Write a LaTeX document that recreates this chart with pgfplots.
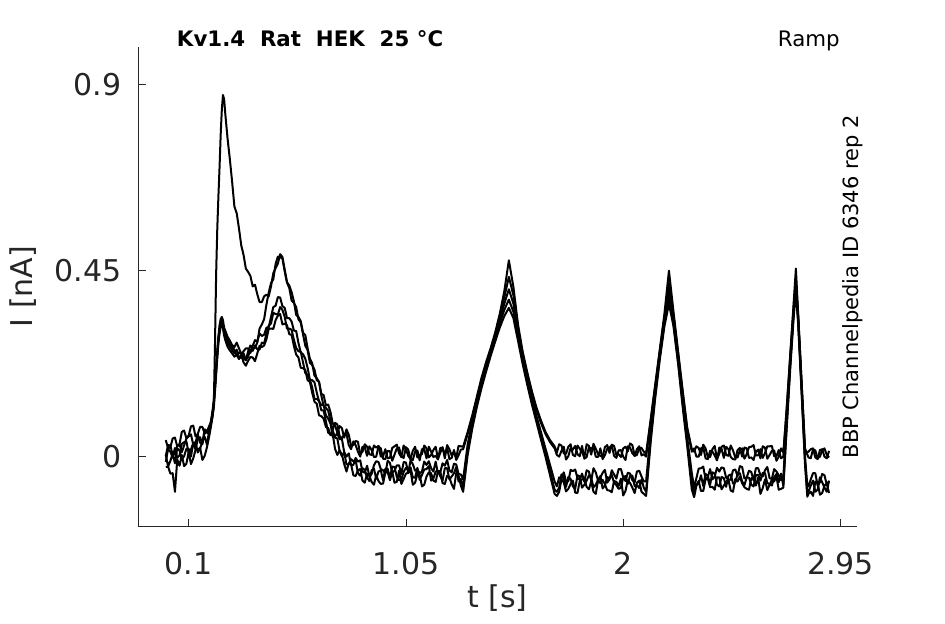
\documentclass[border=0pt]{standalone}
\usepackage{fontspec}
\setmainfont{DejaVu Sans}
\usepackage{pgfplots}
\pgfplotsset{compat=1.18}
\usepackage{pgfplotstable}
\definecolor{axgray}{HTML}{262626}

\pgfplotstableread{
t A B C D E
0.00 0.040 0.002 0.004 -0.013 -0.025
0.01 0.020 0.028 -0.024 0.019 -0.024
0.02 0.023 0.027 -0.010 0.012 -0.041
0.03 0.044 0.004 0.007 -0.002 -0.040
0.04 0.046 0.006 -0.016 0.021 -0.085
0.05 0.025 0.027 0.020 -0.003 -0.007
0.06 0.030 0.030 0.015 0.003 -0.022
0.07 0.060 0.011 -0.006 0.031 0.004
0.08 0.063 0.027 0.001 0.035 -0.023
0.09 0.045 0.044 0.019 0.037 -0.017
0.10 0.051 0.049 0.019 0.008 0.011
0.11 0.073 0.054 0.000 0.017 -0.018
0.12 0.075 0.029 0.032 0.033 -0.004
0.13 0.049 0.034 0.035 0.017 0.016
0.14 0.055 0.054 0.010 0.044 0.016
0.15 0.072 0.033 0.020 0.047 0.022
0.16 0.072 0.034 0.037 0.030 -0.008
0.17 0.056 0.066 0.048 0.060 0.002
0.18 0.061 0.062 0.029 0.058 0.023
0.19 0.075 0.058 0.065 0.055 0.050
0.20 0.085 0.092 0.095 0.087 0.082
0.205 0.100 0.108 0.114 0.106 0.100
0.21 0.130 0.133 0.136 0.127 0.120
0.215 0.270 0.168 0.176 0.166 0.158
0.22 0.440 0.212 0.215 0.207 0.198
0.225 0.550 0.248 0.256 0.247 0.238
0.23 0.630 0.287 0.290 0.282 0.274
0.235 0.700 0.308 0.318 0.305 0.298
0.24 0.780 0.327 0.333 0.322 0.315
0.245 0.840 0.332 0.338 0.326 0.320
0.25 0.875 0.318 0.330 0.316 0.310
0.255 0.865 0.307 0.312 0.300 0.293
0.26 0.830 0.293 0.305 0.290 0.282
0.27 0.770 0.284 0.290 0.274 0.266
0.28 0.720 0.272 0.281 0.266 0.257
0.29 0.665 0.266 0.270 0.258 0.250
0.30 0.605 0.258 0.265 0.250 0.242
0.31 0.589 0.245 0.276 0.259 0.246
0.32 0.552 0.252 0.262 0.241 0.236
0.33 0.511 0.250 0.248 0.239 0.246
0.34 0.488 0.238 0.255 0.250 0.228
0.35 0.455 0.233 0.262 0.234 0.220
0.36 0.447 0.255 0.262 0.242 0.232
0.37 0.437 0.269 0.251 0.259 0.241
0.38 0.412 0.262 0.268 0.256 0.240
0.39 0.416 0.263 0.282 0.269 0.231
0.40 0.393 0.276 0.278 0.260 0.250
0.41 0.374 0.310 0.298 0.259 0.268
0.42 0.374 0.320 0.292 0.276 0.265
0.43 0.388 0.333 0.295 0.274 0.269
0.44 0.392 0.368 0.312 0.298 0.284
0.45 0.388 0.397 0.313 0.317 0.309
0.46 0.412 0.420 0.338 0.322 0.310
0.47 0.444 0.429 0.362 0.348 0.309
0.48 0.456 0.466 0.365 0.345 0.330
0.49 0.467 0.484 0.386 0.344 0.341
0.50 0.490 0.483 0.385 0.362 0.345
0.51 0.483 0.479 0.364 0.355 0.320
0.52 0.452 0.448 0.360 0.338 0.322
0.53 0.422 0.421 0.335 0.310 0.318
0.54 0.414 0.408 0.335 0.310 0.296
0.55 0.398 0.378 0.327 0.307 0.295
0.56 0.376 0.372 0.305 0.283 0.268
0.57 0.343 0.362 0.304 0.263 0.247
0.58 0.338 0.332 0.275 0.255 0.240
0.59 0.328 0.325 0.252 0.254 0.215
0.60 0.300 0.296 0.248 0.228 0.214
0.61 0.294 0.268 0.237 0.202 0.210
0.62 0.262 0.258 0.215 0.198 0.185
0.63 0.237 0.227 0.186 0.186 0.181
0.64 0.226 0.222 0.185 0.168 0.155
0.65 0.196 0.211 0.180 0.140 0.133
0.66 0.190 0.185 0.155 0.140 0.128
0.67 0.181 0.181 0.134 0.135 0.100
0.68 0.152 0.148 0.125 0.112 0.098
0.69 0.149 0.123 0.125 0.112 0.092
0.70 0.124 0.118 0.100 0.086 0.072
0.71 0.126 0.111 0.092 0.058 0.069
0.72 0.108 0.086 0.080 0.054 0.052
0.73 0.080 0.065 0.048 0.063 0.054
0.74 0.076 0.082 0.049 0.046 0.019
0.75 0.058 0.078 0.057 0.044 0.004
0.76 0.074 0.050 0.042 0.013 0.015
0.77 0.069 0.044 0.043 0.001 0.005
0.78 0.046 0.055 0.011 0.011 -0.018
0.79 0.066 0.056 0.000 -0.019 -0.036
0.80 0.053 0.028 0.008 -0.018 -0.016
0.81 0.027 0.018 -0.021 -0.006 -0.018
0.82 0.028 0.037 -0.020 -0.011 -0.045
0.83 0.038 0.028 -0.003 -0.008 -0.047
0.84 0.036 0.012 -0.012 -0.040 -0.033
0.85 0.006 0.000 -0.009 -0.046 -0.030
0.86 0.012 0.024 -0.036 -0.028 -0.058
0.87 0.030 0.023 -0.039 -0.032 -0.063
0.88 0.024 0.002 -0.022 -0.050 -0.041
0.89 0.006 0.025 -0.047 -0.059 -0.047
0.90 0.004 0.016 -0.042 -0.033 -0.061
0.91 0.027 -0.001 -0.021 -0.029 -0.068
0.92 0.022 0.000 -0.011 -0.053 -0.045
0.93 0.026 0.025 -0.013 -0.036 -0.059
0.94 0.000 0.020 -0.030 -0.033 -0.066
0.95 0.001 -0.005 -0.033 -0.057 -0.065
0.96 0.018 -0.006 -0.041 -0.029 -0.038
0.97 -0.004 0.014 -0.010 -0.029 -0.037
0.98 -0.003 0.013 -0.015 -0.052 -0.057
0.99 0.021 -0.010 -0.039 -0.024 -0.036
1.00 0.025 0.005 -0.034 -0.025 -0.063
1.01 0.029 0.020 -0.021 -0.049 -0.061
1.02 0.008 0.022 -0.021 -0.057 -0.034
1.03 -0.001 0.000 -0.042 -0.055 -0.066
1.04 0.027 -0.003 -0.013 -0.037 -0.054
1.05 0.018 0.023 -0.014 -0.027 -0.041
1.06 0.002 0.017 -0.040 -0.031 -0.039
1.07 -0.006 -0.006 -0.009 -0.026 -0.033
1.08 0.014 -0.008 -0.018 -0.050 -0.068
1.09 0.024 0.012 -0.034 -0.051 -0.063
1.10 -0.002 0.015 -0.031 -0.027 -0.042
1.11 0.004 -0.009 -0.040 -0.056 -0.044
1.12 0.006 0.018 -0.036 -0.044 -0.072
1.13 0.027 0.019 -0.012 -0.031 -0.068
1.14 0.020 -0.004 -0.020 -0.030 -0.048
1.15 -0.002 0.024 -0.011 -0.023 -0.038
1.16 0.004 0.012 -0.028 -0.058 -0.040
1.17 0.016 -0.001 -0.036 -0.053 -0.058
1.18 0.024 0.002 -0.012 -0.036 -0.061
1.19 -0.005 -0.007 -0.041 -0.034 -0.035
1.20 0.009 0.021 -0.038 -0.047 -0.035
1.21 0.023 0.021 -0.016 -0.058 -0.064
1.22 -0.004 0.006 -0.022 -0.028 -0.066
1.23 0.028 0.022 -0.008 -0.028 -0.046
1.24 0.018 -0.006 -0.033 -0.055 -0.050
1.25 0.003 -0.003 -0.038 -0.048 -0.067
1.26 0.011 0.016 -0.017 -0.040 -0.078
1.27 -0.003 -0.008 -0.019 -0.025 -0.039
1.28 0.026 0.003 -0.042 -0.060 -0.046
1.29 0.025 0.017 -0.043 -0.054 -0.070
1.30 0.024 0.018 -0.055 -0.075 -0.085
1.32 0.060 0.055 0.030 0.015 0.005
1.34 0.100 0.095 0.085 0.075 0.068
1.36 0.145 0.140 0.135 0.127 0.120
1.38 0.190 0.185 0.180 0.172 0.165
1.40 0.228 0.222 0.218 0.212 0.205
1.42 0.262 0.258 0.255 0.250 0.243
1.44 0.300 0.295 0.290 0.285 0.278
1.46 0.345 0.340 0.330 0.322 0.312
1.48 0.400 0.385 0.370 0.355 0.340
1.50 0.475 0.435 0.405 0.380 0.360
1.52 0.410 0.390 0.370 0.350 0.335
1.54 0.320 0.310 0.300 0.290 0.280
1.56 0.255 0.250 0.240 0.232 0.225
1.58 0.205 0.200 0.190 0.182 0.175
1.60 0.160 0.155 0.145 0.136 0.128
1.62 0.120 0.115 0.100 0.092 0.085
1.64 0.088 0.082 0.060 0.050 0.042
1.66 0.060 0.055 0.020 0.008 0.000
1.68 0.040 0.035 -0.020 -0.035 -0.045
1.70 0.025 0.020 -0.060 -0.080 -0.090
1.71 0.010 0.004 -0.072 -0.085 -0.095
1.72 0.030 0.000 -0.050 -0.075 -0.085
1.73 0.027 0.014 -0.054 -0.043 -0.055
1.74 0.008 0.024 -0.038 -0.052 -0.062
1.75 0.007 -0.007 -0.060 -0.073 -0.084
1.76 0.024 0.001 -0.060 -0.049 -0.078
1.77 0.030 0.021 -0.032 -0.054 -0.066
1.78 0.004 0.017 -0.035 -0.072 -0.058
1.79 0.001 0.026 -0.031 -0.078 -0.087
1.80 0.027 0.006 -0.052 -0.045 -0.088
1.81 0.019 0.001 -0.056 -0.048 -0.059
1.82 0.011 0.026 -0.041 -0.075 -0.055
1.83 -0.002 -0.005 -0.061 -0.068 -0.054
1.84 0.030 -0.001 -0.033 -0.058 -0.073
1.85 0.026 0.023 -0.036 -0.045 -0.079
1.86 0.005 0.019 -0.058 -0.051 -0.060
1.87 0.031 0.024 -0.028 -0.074 -0.085
1.88 0.019 0.000 -0.038 -0.068 -0.090
1.89 0.006 -0.001 -0.058 -0.056 -0.057
1.90 0.002 0.020 -0.051 -0.047 -0.064
1.91 0.000 -0.006 -0.039 -0.077 -0.056
1.92 0.023 0.004 -0.032 -0.070 -0.067
1.93 0.028 0.019 -0.063 -0.049 -0.081
1.94 0.009 0.022 -0.055 -0.054 -0.082
1.95 0.029 0.027 -0.033 -0.044 -0.086
1.96 0.026 0.002 -0.043 -0.063 -0.059
1.97 0.004 -0.003 -0.053 -0.069 -0.061
1.98 0.006 0.015 -0.030 -0.078 -0.071
1.99 -0.001 0.016 -0.030 -0.075 -0.053
2.00 0.020 0.000 -0.050 -0.050 -0.094
2.01 0.024 -0.008 -0.059 -0.047 -0.083
2.02 0.013 0.025 -0.039 -0.066 -0.057
2.03 0.032 0.022 -0.041 -0.046 -0.064
2.04 0.028 0.008 -0.057 -0.046 -0.075
2.05 0.002 0.002 -0.062 -0.071 -0.088
2.06 0.004 0.018 -0.036 -0.069 -0.063
2.07 0.021 0.025 -0.034 -0.076 -0.058
2.08 0.021 0.003 -0.048 -0.055 -0.085
2.09 0.012 0.006 -0.060 -0.075 -0.090
2.10 0.008 0.000 -0.060 -0.085 -0.095
2.12 0.090 0.085 0.060 0.045 0.035
2.14 0.175 0.170 0.160 0.150 0.142
2.16 0.260 0.255 0.250 0.242 0.235
2.18 0.345 0.335 0.330 0.322 0.315
2.20 0.450 0.420 0.400 0.380 0.370
2.22 0.350 0.340 0.330 0.320 0.315
2.24 0.255 0.250 0.240 0.230 0.225
2.26 0.160 0.155 0.140 0.130 0.120
2.28 0.070 0.065 0.045 0.035 0.025
2.30 0.018 0.012 -0.040 -0.065 -0.080
2.31 0.012 0.020 -0.075 -0.090 -0.098
2.32 0.025 0.000 -0.052 -0.068 -0.070
2.33 0.021 0.000 -0.029 -0.066 -0.059
2.34 0.004 0.020 -0.028 -0.045 -0.083
2.35 0.029 0.023 -0.024 -0.071 -0.083
2.36 0.020 -0.004 -0.055 -0.042 -0.055
2.37 -0.001 -0.006 -0.049 -0.046 -0.053
2.38 -0.001 0.014 -0.030 -0.068 -0.074
2.39 0.018 0.012 -0.055 -0.038 -0.073
2.40 0.026 0.003 -0.048 -0.041 -0.080
2.41 -0.006 -0.009 -0.027 -0.068 -0.050
2.42 0.007 0.022 -0.036 -0.072 -0.050
2.43 0.024 0.019 -0.026 -0.049 -0.079
2.44 0.027 -0.003 -0.028 -0.052 -0.070
2.45 0.004 0.024 -0.051 -0.073 -0.061
2.46 0.002 0.018 -0.055 -0.046 -0.056
2.47 0.027 -0.001 -0.056 -0.043 -0.082
2.48 0.015 -0.006 -0.033 -0.065 -0.085
2.49 -0.002 -0.007 -0.031 -0.063 -0.054
2.50 -0.002 0.016 -0.047 -0.042 -0.060
2.51 0.016 0.021 -0.023 -0.040 -0.049
2.52 0.020 0.000 -0.025 -0.060 -0.064
2.53 -0.005 0.022 -0.053 -0.069 -0.074
2.54 0.006 0.020 -0.050 -0.050 -0.078
2.55 0.023 -0.003 -0.034 -0.051 -0.080
2.56 0.024 -0.002 -0.037 -0.068 -0.052
2.57 0.028 -0.008 -0.058 -0.072 -0.052
2.58 0.003 0.012 -0.028 -0.045 -0.070
2.59 0.003 0.017 -0.028 -0.044 -0.051
2.60 0.018 -0.004 -0.045 -0.058 -0.090
2.61 -0.003 0.025 -0.048 -0.039 -0.076
2.62 0.009 0.022 -0.033 -0.040 -0.055
2.63 0.025 -0.005 -0.025 -0.064 -0.081
2.64 0.025 0.004 -0.052 -0.066 -0.068
2.65 0.026 0.014 -0.054 -0.070 -0.056
2.66 0.001 0.015 -0.030 -0.050 -0.060
2.67 0.001 -0.010 -0.036 -0.042 -0.048
2.68 0.016 0.000 -0.045 -0.062 -0.080
2.69 -0.004 0.020 -0.057 -0.041 -0.078
2.70 0.000 0.010 -0.050 -0.070 -0.075
2.715 0.120 0.115 0.090 0.080 0.070
2.73 0.245 0.240 0.225 0.220 0.210
2.745 0.370 0.360 0.350 0.345 0.335
2.755 0.455 0.430 0.420 0.410 0.400
2.765 0.345 0.340 0.335 0.330 0.320
2.78 0.180 0.180 0.170 0.160 0.155
2.795 0.015 0.020 0.000 -0.010 -0.020
2.805 0.010 0.005 -0.070 -0.090 -0.097
2.81 0.012 -0.002 -0.072 -0.085 -0.090
2.82 0.018 -0.004 -0.055 -0.070 -0.085
2.83 0.020 0.018 -0.040 -0.058 -0.095
2.84 -0.002 0.015 -0.040 -0.085 -0.060
2.85 -0.006 -0.004 -0.070 -0.080 -0.062
2.86 0.016 0.000 -0.062 -0.050 -0.092
2.87 0.018 0.016 -0.042 -0.062 -0.088
2.88 0.000 0.020 -0.045 -0.075 -0.070
2.89 -0.004 0.004 -0.068 -0.085 -0.065
2.90 0.014 -0.002 -0.060 -0.058 -0.088
}\data

\begin{document}
\begin{tikzpicture}
\useasboundingbox (0,0) rectangle (708.75pt,468pt);
\begin{axis}[
  at={(103.7pt,73pt)}, anchor=south west,
  scale only axis, width=538.8pt, height=360pt,
  xmin=-0.1204, xmax=3.0208, ymin=-0.1694, ymax=0.992,
  axis lines=left, axis line style={-, axgray, line width=0.6pt},
  tick align=inside, major tick length=6pt,
  tick style={axgray, line width=0.6pt},
  xtick={0.1,1.05,2,2.95}, xticklabels={0.1,1.05,2,2.95},
  ytick={0,0.45,0.9}, yticklabels={0,0.45,0.9},
  ticklabel style={font=\fontsize{22.5}{27}\selectfont, text=axgray, inner sep=0pt},
  xticklabel style={anchor=north, yshift=-18.75pt},
  yticklabel style={anchor=east, xshift=-12.5pt},
  xlabel={t [s]}, ylabel={I [nA]},
  label style={font=\fontsize{22.5}{27}\selectfont, text=axgray, inner sep=0pt},
  xlabel style={at={(axis description cs:0.5,-0.1214)}, anchor=north},
  ylabel style={at={(axis description cs:-0.1414,0.5)}, anchor=south},
  clip=false,
]
\addplot[black, line width=1.5pt, line join=round] table[x=t,y=E]{\data};
\addplot[black, line width=1.5pt, line join=round] table[x=t,y=D]{\data};
\addplot[black, line width=1.5pt, line join=round] table[x=t,y=C]{\data};
\addplot[black, line width=1.5pt, line join=round] table[x=t,y=B]{\data};
\addplot[black, line width=1.5pt, line join=round] table[x=t,y=A]{\data};
\node[anchor=base west, font=\bfseries\fontsize{16}{19}\selectfont, inner sep=0pt] at (axis description cs:0.0535,1.0) {Kv1.4\ \ Rat\ \ HEK\ \ 25 °C};
\node[anchor=base east, font=\fontsize{16}{19}\selectfont, inner sep=0pt] at (axis description cs:0.9768,1.0) {Ramp};
\node[rotate=90, anchor=base, font=\fontsize{15.75}{19}\selectfont, inner sep=0pt] at (axis description cs:1.0022,0.5) {BBP Channelpedia ID 6346 rep 2};
\end{axis}
\end{tikzpicture}
\end{document}
